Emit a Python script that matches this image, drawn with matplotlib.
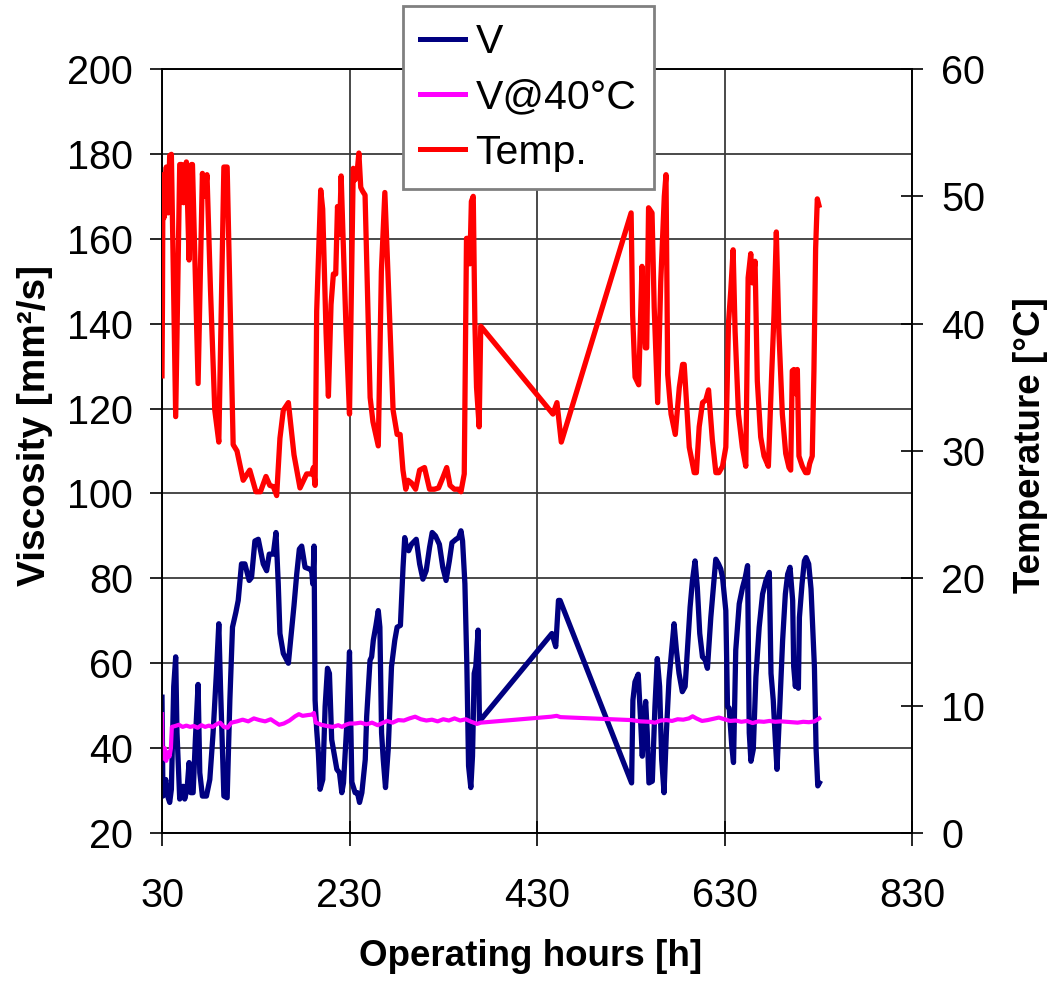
import matplotlib
matplotlib.use("Agg")
import matplotlib.pyplot as plt
from matplotlib.lines import Line2D

plt.rcParams['font.family'] = ['Liberation Sans', 'DejaVu Sans']

# ---------------- data ----------------
# Viscosity V [mm²/s] vs operating hours
v_hours = [30, 31, 34, 36, 38.2, 40, 42.5, 44.6, 46, 48.9, 52.5, 54.2, 56.7, 58.9, 60.7, 63.2, 65.6, 68.5,
           70.3, 73.1, 77.4, 81, 84.5, 88, 90.6, 92.4, 96, 99.5, 102.4, 105.2, 108.8, 111.3, 114.8, 118.4,
           123, 125.5, 129.1, 132.7, 138, 141.6, 144.4, 148.7, 151.6, 154, 155.8, 159.4, 163, 164.8, 168.3,
           170.8, 173.7, 176.5, 179, 182.6, 187.2, 189.7, 190.8, 192.2, 193.3, 195, 196.8, 198.6, 201.5, 204,
           206.5, 208.6, 211, 214, 216.5, 219.3, 221.8, 223.6, 227, 230, 232.5, 236, 238.5, 240.7, 243.2,
           246.8, 248.3, 251.9, 253.6, 255.4, 258.2, 260.7, 262.4, 264.2, 266, 268.4, 271.3, 274.8, 278.3,
           280.8, 284.3, 287.1, 288.9, 290.7, 293.1, 296, 301.2, 304.8, 308.3, 311.8, 315.4, 318.2, 321.7,
           325.9, 329.5, 333, 336.5, 339.3, 343.6, 346.4, 348.9, 350.6, 353.1, 355.2, 357, 359.4, 361.2, 363,
           364.7, 367.2, 368.2, 368.6, 445.9, 450, 452.9, 454.6, 530.9, 532.3, 534.5, 538, 540.5, 542.3, 544,
           545.9, 547.6, 549.4, 553, 555.8, 558.3, 560.8, 563, 565.5, 568, 570.8, 573.7, 576.2, 578.7, 581.5,
           585, 588, 590.4, 593.3, 595.8, 598.6, 601, 603.6, 606.5, 609.3, 611.8, 615.4, 619, 620.7, 623.6,
           626, 627.9, 631.4, 633.2, 635, 637.8, 639.6, 642, 645.7, 649.3, 652.1, 654.6, 656.4, 658.2, 660.7,
           663.5, 667, 670.6, 674.2, 677.8, 679.6, 682, 684.2, 686, 688.5, 692, 694.9, 697.4, 699.9, 702.7,
           703.8, 705.6, 707, 708.8, 709.9, 712.7, 715.2, 717, 719.8, 722.3, 725.9, 727.7, 729.5, 731.2]
v_values = [52, 28.7, 32.6, 28.7, 27.2, 30.3, 54.5, 61.5, 43.6, 28, 31, 28, 30.3, 36.6, 29.5, 29.5, 42, 55,
            34.2, 28.7, 28.7, 32.6, 43.6, 57.6, 69.3, 54.5, 28.7, 28.3, 51.4, 68.5, 72, 74.8, 83.4, 83.4,
            79.5, 80.2, 88.8, 89.2, 83.4, 81.8, 85.7, 85.7, 90.8, 78.7, 67, 62.3, 60.8, 60, 67.8,
            73.6, 81, 86.9, 87.6, 82.6, 82.2, 81.8, 78.7, 87.6, 51.3, 44.3, 38.8, 30.3, 32.6, 49.8,
            58.8, 57.6, 42, 38.1, 35, 34.2, 29.5, 31.8, 45.1, 62.7, 32, 29.5, 29.5, 27.2, 29.5,
            37.3, 47.4, 60.7, 61.5, 65.4, 68.9, 72.4, 68.5, 43.6, 37.3, 30.7, 39.7, 59.2, 65.4,
            68.5, 68.9, 82.6, 89.6, 87.3, 86.5, 88, 89.2, 83.4, 79.8, 81.8, 87.3, 90.8, 90,
            88, 82.6, 79.5, 84.1, 88.4, 89.2, 89.6, 91.2, 88.8, 78.7, 59.2, 35.8, 30.7, 38.1, 57.6,
            59.2, 67.8, 53, 46.3, 67, 63.9, 74.8, 74.8, 31.8, 51.3, 55.6, 57.4, 46.6, 38.1, 46.6,
            51, 43.6, 31.8, 32.2, 49.8, 61.1, 54.5, 37.3, 29.5, 43.6, 56.1, 63.1, 69.3, 63.1, 57.6,
            53.3, 54.5, 63.1, 73.2, 79.5, 84.1, 77.9, 67, 61.5, 60.8, 58.8, 70.8, 80.2, 84.5, 83.4,
            82.2, 80.2, 72.4, 49.8, 49.4, 40.4, 36.6, 63.1, 74, 77.9, 80.2, 83, 43.6, 36.9, 39.7,
            56.8, 68.5, 76.3, 79.5, 81.4, 57.6, 51.3, 42, 35, 47.4, 65.4, 76.3, 81, 82.6, 74.8,
            59.2, 54.5, 59.2, 54.1, 70.8, 78.7, 84.1, 84.9, 83.4, 77.5, 59.2, 39.7, 31.1, 31.8]

# Viscosity at 40 °C [mm²/s]
v40_hours = [30, 30.5, 31.5, 33, 34.5, 36, 38, 39.5, 40.5, 44, 48, 52, 56, 60, 64, 68, 72, 76, 80, 84, 88,
             92, 96, 100, 104, 110, 116, 122, 128, 134, 140, 146, 150, 155, 160, 166, 172, 176, 180, 186,
             190, 192, 194, 200, 206, 212, 218, 222, 226, 230, 236, 242, 248, 254, 260, 264, 270, 276,
             282, 288, 294, 300, 306, 312, 318, 324, 330, 336, 342, 348, 354, 360, 366, 370, 445, 451,
             455, 531, 540, 550, 556, 562, 568, 574, 580, 586, 592, 596, 600, 606, 612, 618, 624, 630,
             636, 642, 648, 654, 660, 666, 672, 678, 684, 690, 696, 702, 708, 714, 720, 726, 731]
v40_values = [48, 40, 37.5, 40, 37, 39, 38, 40, 45, 45.2, 45.5, 45, 45.3, 45, 45.2, 44.8, 45.4, 45, 45.3,
              45, 45.6, 46, 45, 44.8, 46, 46.3, 46.7, 46.3, 47, 46.6, 46.3, 46.8, 46.2, 45.5, 45.8, 46.5,
              47.5, 48, 47.6, 47.8, 47.9, 48.3, 46, 45.5, 45.2, 45, 45.4, 45, 45.5, 45.8, 45.8, 46,
              45.6, 46, 45.4, 45.8, 46.4, 46, 46.6, 46.5, 47, 47.4, 46.8, 46.5, 46.7, 46.3, 46.8, 46.5,
              47, 46.5, 46.8, 46.2, 45.7, 46, 47.4, 47.6, 47.3, 46.6, 46.3, 46.2, 46, 46.5, 46.6, 46.4,
              46.8, 46.7, 47, 47.5, 47, 46.4, 46.6, 46.9, 47.2, 46.8, 46.4, 46.5, 46.2, 46.4, 45.9,
              46.3, 46.2, 46.4, 46.2, 46.3, 46.2, 46.1, 46.0, 46.2, 46.1, 46.3, 47]

# Temperature [°C]
t_hours = [30, 30.5, 31, 32, 33, 34.6, 36.5, 38.2, 40, 44.6, 48.9, 51, 53, 56, 58.9, 61.4, 62.5, 68.5,
           73.1, 75.6, 78, 81.7, 86.3, 90.6, 96, 99.5, 105.9, 110, 116.6, 123.6, 130.2, 135, 140.9, 145,
           148.8, 152.3, 155.8, 159.4, 164.8, 170.8, 177.2, 184.3, 189.7, 191.5, 193.3, 195, 199.3, 201.4,
           205, 207.5, 210.3, 212.8, 215.3, 217.2, 219.3, 221.1, 222.9, 226.4, 230, 234, 236, 238, 240,
           242, 244, 246.6, 252, 255, 258, 260.7, 264, 267.7, 271, 276.5, 280.8, 284, 287, 290, 292.5,
           296, 300.5, 304.8, 310, 315.4, 320.6, 325, 329.5, 333.7, 337.2, 341.8, 346, 348.9, 352.4,
           354.8, 356.5, 358.4, 360, 362, 363.7, 365.5, 368.3, 370, 447, 451.3, 455.9, 530.4, 532,
           534.6, 538.5, 542, 543.8, 545.6, 547, 549, 552.7, 555, 558.7, 562, 565.8, 567.6, 569.4, 573,
           577.5, 581.8, 585.3, 587, 592.4, 597.7, 600, 603, 606.6, 610, 613, 617, 620.8, 624, 627.9,
           631.4, 634.3, 636.7, 639.2, 641.3, 644.9, 649, 652.7, 655.2, 658, 659.8, 662.6, 665, 668.6,
           672.2, 676.8, 680.3, 682.8, 685.3, 688, 691.7, 695.3, 698.8, 700.6, 702.3, 704, 705.9,
           707.7, 709.4, 713, 716.5, 719, 720.8, 723.6, 725.4, 727.2, 729, 730.7]
t_values = [35.9, 41.7, 51.7, 48.3, 50.7, 52.3, 48.7, 53.2, 53.3, 32.7, 52.5, 52.5, 49.5, 52.7, 45.0, 52.5,
            52.5, 35.3, 51.8, 50.0, 51.7, 42.7, 33.2, 30.7, 52.3, 52.3, 30.5, 30.0, 27.7, 28.5, 26.8,
            26.8, 28.0, 27.3, 27.2, 26.5, 31.0, 33.2, 33.8, 29.7, 27.1, 28.2, 28.2, 28.7, 27.3, 41.0,
            50.5, 49.0, 39.3, 34.3, 41.5, 43.9, 43.9, 49.2, 47.0, 51.6, 47.3, 39.4, 32.9, 52.2, 51.3,
            51.8, 53.4, 50.7, 50.4, 50.1, 34.2, 32.3, 31.3, 30.4, 44.1, 50.3, 44.0, 33.2, 31.3, 31.3,
            28.5, 27.0, 27.7, 27.5, 27.0, 28.5, 28.7, 27.0, 27.0, 27.1, 27.9, 28.7, 27.3, 27.0, 27.0,
            26.8, 28.2, 46.7, 46.7, 44.7, 49.6, 50.0, 40.2, 35.0, 31.9, 39.8, 32.9, 33.8, 30.7, 48.7,
            40.7, 35.8, 35.2, 44.5, 41.0, 38.1, 38.1, 49.1, 48.7, 41.3, 33.8, 43.3, 50.0, 51.7, 36.0,
            32.9, 31.3, 35.0, 36.8, 36.8, 30.3, 28.3, 28.3, 31.9, 33.8, 34.0, 34.8, 30.9, 28.3, 28.3,
            28.8, 30.3, 40.1, 42.6, 45.8, 39.4, 32.9, 30.3, 28.8, 43.6, 45.5, 43.2, 44.9, 35.5, 31.1,
            29.6, 28.8, 36.0, 40.7, 47.2, 39.4, 32.9, 29.8, 28.7, 28.5, 36.3, 36.4, 34.5,
            36.4, 29.6, 28.8, 28.3, 28.3, 29.0, 29.6, 36.3, 45.9, 49.8, 49.3]

x_ticks = [30, 230, 430, 630, 830]
v_ticks = [20, 40, 60, 80, 100, 120, 140, 160, 180, 200]
t_ticks = [0, 10, 20, 30, 40, 50, 60]

# ---------------- figure ----------------
W, H = 1052, 981
fig = plt.figure(figsize=(W / 100, H / 100), dpi=100)
ax = fig.add_axes([162 / W, 1 - 833 / H, 750 / W, 764 / H])
ax2 = ax.twinx()

navy, magenta, red = '#000080', '#FF00FF', '#FF0000'

ax.plot(v_hours, v_values, color=navy, lw=3.8, solid_joinstyle='round', zorder=3)
ax.plot(v40_hours, v40_values, color=magenta, lw=3.0, solid_joinstyle='round', zorder=4)
ax2.plot(t_hours, t_values, color=red, lw=3.8, solid_joinstyle='round', zorder=3)

ax.set_xlim(30, 830)
ax.set_ylim(20, 200)
ax2.set_ylim(0, 60)
ax.set_xticks(x_ticks)
ax.set_yticks(v_ticks)
ax2.set_yticks(t_ticks)

ax.grid(True, color='#3a3a3a', lw=1.3)
ax.set_axisbelow(True)

for a in (ax, ax2):
    for s in a.spines.values():
        s.set_color('black')
        s.set_linewidth(1.2)

fs = 28.5
ax.tick_params(axis='x', direction='inout', length=18, width=1.2, pad=23, labelsize=fs)
ax.tick_params(axis='y', direction='out', length=9, width=1.2, pad=12, labelsize=fs)
ax2.tick_params(axis='y', direction='inout', length=16, width=1.2, pad=13, labelsize=fs)

fig.text(35 / W, 1 - 425 / H, 'Viscosity [mm²/s]', rotation=90, ha='center', va='center',
         fontsize=28, fontweight='bold')
fig.text(1030 / W, 1 - 445 / H, 'Temperature [°C]', rotation=90, ha='center', va='center',
         fontsize=26.5, fontweight='bold')
fig.text(531 / W, 1 - 957 / H, 'Operating hours [h]', ha='center', va='center',
         fontsize=26.5, fontweight='bold')

handles = [Line2D([], [], color=navy, lw=3.6),
           Line2D([], [], color=magenta, lw=3.6),
           Line2D([], [], color=red, lw=3.6)]
leg = fig.legend(handles, ['V', 'V@40°C', 'Temp.'], loc='upper left',
                 bbox_to_anchor=(403 / W, 1 - 6 / H), borderaxespad=0, fontsize=29.5,
                 frameon=True, fancybox=False, shadow=False, handlelength=1.1,
                 handletextpad=0.25, labelspacing=0.42, borderpad=0.42)
leg.get_frame().set_edgecolor('#808080')
leg.get_frame().set_linewidth(2)
leg.get_frame().set_alpha(1)
leg.set_zorder(10)

fig.savefig('out.png', dpi=100)
